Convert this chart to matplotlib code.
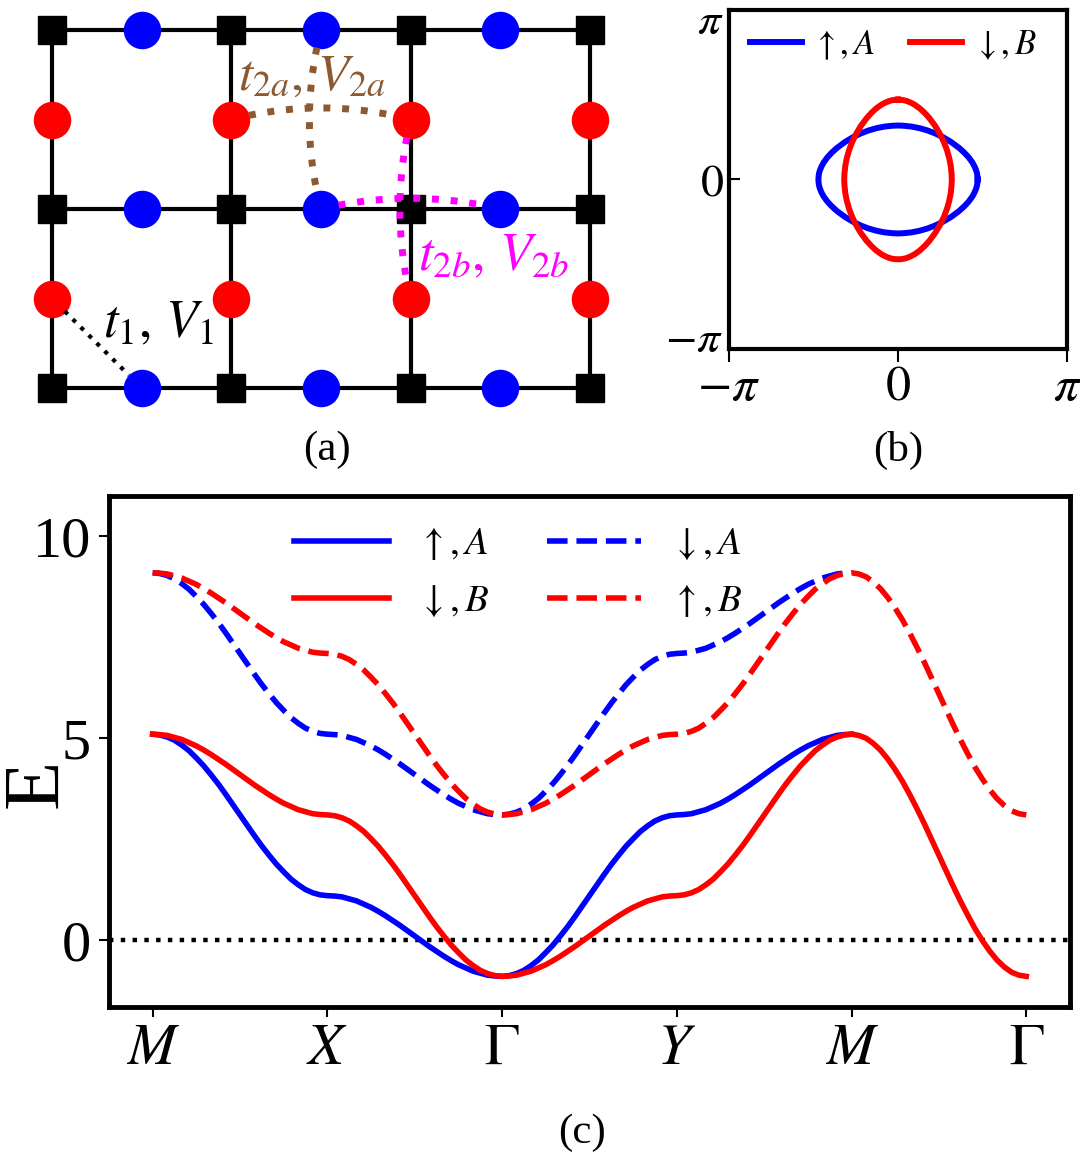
import numpy as np
import matplotlib
matplotlib.use("Agg")
import matplotlib.pyplot as plt
import matplotlib.transforms as mtransforms


plt.rcParams['font.family'] = 'serif'
plt.rcParams['font.serif'] = ['Liberation Serif', 'DejaVu Serif']
plt.rcParams['mathtext.fontset'] = 'stix'

BROWN = '#8c5a32'

# ---- (a) lattice: sites and hoppings (lattice units) ----
GRID_X = [0, 1, 2, 3]          # black squares / bond lines
GRID_Y = [0, 1, 2]
BLUE_X = [0.5, 1.5, 2.5]       # A sites on horizontal bonds
RED_Y = [0.5, 1.5]             # B sites on vertical bonds

# (from site, to site, colour, line width, curvature)
HOPPINGS = [
    ((1.0, 1.5), (2.0, 1.5), BROWN, 5, -0.13),
    ((1.5, 2.0), (1.5, 1.0), BROWN, 5, 0.13),
    ((1.5, 1.0), (2.5, 1.0), 'magenta', 5, -0.12),
    ((2.0, 1.5), (2.0, 0.5), 'magenta', 5, 0.12),
    ((0.0, 0.5), (0.5, 0.0), 'k', 3, 0.0),
]

# ---- (b) Fermi contour, first quadrant of the up,A pocket (kx, ky) ----
FS_KX = [1.480, 1.475, 1.466, 1.451, 1.421, 1.382, 1.313, 1.234, 1.135,
         0.987, 0.839, 0.691, 0.543, 0.395, 0.247, 0.099, 0.000]
FS_KY = [0.000, 0.070, 0.122, 0.172, 0.244, 0.315, 0.410, 0.495, 0.585,
         0.694, 0.782, 0.854, 0.910, 0.952, 0.981, 0.996, 1.000]

# ---- (c) bands along M-X-G-Y-M-G, 24 samples per segment ----
K_LABELS = ['$M$', '$X$', r'$\Gamma$', '$Y$', '$M$', r'$\Gamma$']
SAMPLES_PER_SEGMENT = 24
UP_A = [5.10, 5.08, 5.03, 4.95, 4.83, 4.69, 4.51, 4.32, 4.10, 3.87, 3.62, 3.36, 3.10,
        2.84, 2.58, 2.33, 2.10, 1.88, 1.69, 1.51, 1.37, 1.25, 1.17, 1.12, 1.10,
        1.09, 1.07, 1.02, 0.97, 0.89, 0.81, 0.71, 0.60, 0.48, 0.36, 0.23, 0.10,
        -0.03, -0.16, -0.28, -0.40, -0.51, -0.61, -0.69, -0.77, -0.82, -0.87, -0.89, -0.90,
        -0.88, -0.83, -0.75, -0.63, -0.49, -0.31, -0.12, 0.10, 0.33, 0.58, 0.84, 1.10,
        1.36, 1.62, 1.87, 2.10, 2.32, 2.51, 2.69, 2.83, 2.95, 3.03, 3.08, 3.10,
        3.11, 3.13, 3.18, 3.23, 3.31, 3.39, 3.49, 3.60, 3.72, 3.84, 3.97, 4.10,
        4.23, 4.36, 4.48, 4.60, 4.71, 4.81, 4.89, 4.97, 5.02, 5.07, 5.09, 5.10]
DN_A = [9.10, 9.08, 9.03, 8.95, 8.83, 8.69, 8.51, 8.32, 8.10, 7.87, 7.62, 7.36, 7.10,
        6.84, 6.58, 6.33, 6.10, 5.88, 5.69, 5.51, 5.37, 5.25, 5.17, 5.12, 5.10,
        5.09, 5.07, 5.02, 4.97, 4.89, 4.81, 4.71, 4.60, 4.48, 4.36, 4.23, 4.10,
        3.97, 3.84, 3.72, 3.60, 3.49, 3.39, 3.31, 3.23, 3.18, 3.13, 3.11, 3.10,
        3.12, 3.17, 3.25, 3.37, 3.51, 3.69, 3.88, 4.10, 4.33, 4.58, 4.84, 5.10,
        5.36, 5.62, 5.87, 6.10, 6.32, 6.51, 6.69, 6.83, 6.95, 7.03, 7.08, 7.10,
        7.11, 7.13, 7.18, 7.23, 7.31, 7.39, 7.49, 7.60, 7.72, 7.84, 7.97, 8.10,
        8.23, 8.36, 8.48, 8.60, 8.71, 8.81, 8.89, 8.97, 9.02, 9.07, 9.09, 9.10]
# B bands continue along M-G, where the A bands lie underneath them
DN_B = [5.10, 5.09, 5.07, 5.02, 4.97, 4.89, 4.81, 4.71, 4.60, 4.48, 4.36, 4.23, 4.10,
        3.97, 3.84, 3.72, 3.60, 3.49, 3.39, 3.31, 3.23, 3.18, 3.13, 3.11, 3.10,
        3.08, 3.03, 2.95, 2.83, 2.69, 2.51, 2.32, 2.10, 1.87, 1.62, 1.36, 1.10,
        0.84, 0.58, 0.33, 0.10, -0.12, -0.31, -0.49, -0.63, -0.75, -0.83, -0.88, -0.90,
        -0.89, -0.87, -0.82, -0.77, -0.69, -0.61, -0.51, -0.40, -0.28, -0.16, -0.03, 0.10,
        0.23, 0.36, 0.48, 0.60, 0.71, 0.81, 0.89, 0.97, 1.02, 1.07, 1.09, 1.10,
        1.12, 1.17, 1.25, 1.37, 1.51, 1.69, 1.88, 2.10, 2.33, 2.58, 2.84, 3.10,
        3.36, 3.62, 3.87, 4.10, 4.32, 4.51, 4.69, 4.83, 4.95, 5.03, 5.08, 5.10,
        5.07, 5.00, 4.87, 4.70, 4.48, 4.22, 3.93, 3.60, 3.25, 2.88, 2.49, 2.10,
        1.71, 1.32, 0.95, 0.60, 0.27, -0.02, -0.28, -0.50, -0.67, -0.80, -0.87, -0.90]
UP_B = [9.10, 9.09, 9.07, 9.02, 8.97, 8.89, 8.81, 8.71, 8.60, 8.48, 8.36, 8.23, 8.10,
        7.97, 7.84, 7.72, 7.60, 7.49, 7.39, 7.31, 7.23, 7.18, 7.13, 7.11, 7.10,
        7.08, 7.03, 6.95, 6.83, 6.69, 6.51, 6.32, 6.10, 5.87, 5.62, 5.36, 5.10,
        4.84, 4.58, 4.33, 4.10, 3.88, 3.69, 3.51, 3.37, 3.25, 3.17, 3.12, 3.10,
        3.11, 3.13, 3.18, 3.23, 3.31, 3.39, 3.49, 3.60, 3.72, 3.84, 3.97, 4.10,
        4.23, 4.36, 4.48, 4.60, 4.71, 4.81, 4.89, 4.97, 5.02, 5.07, 5.09, 5.10,
        5.12, 5.17, 5.25, 5.37, 5.51, 5.69, 5.88, 6.10, 6.33, 6.58, 6.84, 7.10,
        7.36, 7.62, 7.87, 8.10, 8.32, 8.51, 8.69, 8.83, 8.95, 9.03, 9.08, 9.10,
        9.07, 9.00, 8.87, 8.70, 8.48, 8.22, 7.93, 7.60, 7.25, 6.88, 6.49, 6.10,
        5.71, 5.32, 4.95, 4.60, 4.27, 3.98, 3.72, 3.50, 3.33, 3.20, 3.13, 3.10]


def plot_lattice(ax):
    ax.hlines(GRID_Y, GRID_X[0], GRID_X[-1], color='k', lw=3, zorder=1)
    ax.vlines(GRID_X, GRID_Y[0], GRID_Y[-1], color='k', lw=3, zorder=1)
    sx, sy = np.meshgrid(GRID_X, GRID_Y)
    ax.plot(sx.ravel(), sy.ravel(), 's', color='k', ms=20, zorder=2)
    bx, by = np.meshgrid(BLUE_X, GRID_Y)
    ax.plot(bx.ravel(), by.ravel(), 'o', color='blue', ms=27, mec='none', zorder=3)
    rx, ry = np.meshgrid(GRID_X, RED_Y)
    ax.plot(rx.ravel(), ry.ravel(), 'o', color='red', ms=27, mec='none', zorder=3)

    for start, end, colour, lw, rad in HOPPINGS:
        ann = ax.annotate('', xy=end, xytext=start, zorder=4,
                          arrowprops=dict(arrowstyle='-', color=colour, lw=lw,
                                          ls=(0, (1.0, 1.7)),
                                          connectionstyle=f'arc3,rad={rad}',
                                          shrinkA=13, shrinkB=13))
        ann.arrow_patch.set_capstyle('butt')

    ax.text(1.037, 1.665, r'$t_{2a},\,V_{2a}$', color=BROWN, fontsize=37,
            ha='left', va='baseline', zorder=5)
    ax.text(2.041, 0.659, r'$t_{2b},\,V_{2b}$', color='magenta', fontsize=38,
            ha='left', va='baseline', zorder=5)
    ax.text(0.284, 0.285, r'$t_1,\,V_1$', color='k', fontsize=38,
            ha='left', va='baseline', zorder=5)

    ax.set_xlim(-0.290, 3.279)
    ax.set_ylim(-0.179, 2.168)
    ax.axis('off')


def plot_fermi(ax):
    qx = np.array(FS_KX)
    qy = np.array(FS_KY)
    kx = np.concatenate([qx, -qx[::-1], -qx, qx[::-1]])
    ky = np.concatenate([qy, qy[::-1], -qy, -qy[::-1]])
    ax.plot(kx, ky, color='blue', lw=4.3, label=r'$\uparrow, A$')
    # B pocket is the A pocket rotated by 90 degrees
    ax.plot(ky, kx, color='red', lw=4.3, label=r'$\downarrow, B$')

    ax.set_xlim(-np.pi, np.pi)
    ax.set_ylim(-np.pi, np.pi)
    ticks = [-np.pi, 0, np.pi]
    labels = [r'$-\pi$', '$0$', r'$\pi$']
    ax.set_xticks(ticks, labels)
    ax.set_yticks(ticks, labels)
    ax.tick_params(axis='x', direction='out', length=9, width=1.5, labelsize=36, pad=2)
    ax.tick_params(axis='y', direction='in', length=8, width=1.5, labelsize=33, pad=4)
    # end labels pulled in towards the middle of the axis
    ylabels = ax.get_yticklabels()
    dpi_trans = ax.figure.dpi_scale_trans
    ylabels[0].set_transform(ylabels[0].get_transform()
                             + mtransforms.ScaledTranslation(0, 0.13, dpi_trans))
    ylabels[-1].set_transform(ylabels[-1].get_transform()
                              + mtransforms.ScaledTranslation(0, -0.08, dpi_trans))
    for spine in ax.spines.values():
        spine.set_linewidth(3)
    ax.legend(loc='upper left', bbox_to_anchor=(0.062, 0.944), ncol=2, frameon=False,
              fontsize=25, handlelength=1.5, handletextpad=0.3, columnspacing=1.0,
              borderpad=0, borderaxespad=0)


def plot_bands(ax):
    k_b = np.arange(len(DN_B)) / SAMPLES_PER_SEGMENT
    k_a = np.arange(len(UP_A)) / SAMPLES_PER_SEGMENT
    ax.axhline(0, color='k', ls=':', lw=3.2)
    ax.plot(k_a, UP_A, color='blue', lw=4, label=r'$\uparrow, A$')
    ax.plot(k_b, DN_B, color='red', lw=4, label=r'$\downarrow, B$')
    ax.plot(k_a, DN_A, color='blue', lw=4, ls='--', label=r'$\downarrow, A$')
    ax.plot(k_b, UP_B, color='red', lw=4, ls='--', label=r'$\uparrow, B$')

    ax.set_xlim(-0.25, 5.25)
    ax.set_ylim(-1.66, 11.0)
    ax.set_xticks(range(len(K_LABELS)), K_LABELS)
    ax.set_yticks([0, 5, 10])
    ax.tick_params(axis='both', direction='out', length=7, width=1.5, labelsize=42)
    ax.tick_params(axis='x', pad=5)
    ax.tick_params(axis='y', pad=6)
    for spine in ax.spines.values():
        spine.set_linewidth(3.5)
    ax.set_ylabel('E', fontsize=58)
    ax.yaxis.set_label_coords(-0.036, 0.438)
    ax.legend(loc='upper left', bbox_to_anchor=(0.193, 0.941), ncol=2, frameon=False,
              fontsize=28, handlelength=2.42, handletextpad=0.75, columnspacing=1.5,
              labelspacing=0.52, borderpad=0, borderaxespad=0)


def main():
    fig = plt.figure(figsize=(10.8, 11.59), dpi=100)
    ax_a = fig.add_axes([0.0, 0.6376, 0.5926, 0.3624])
    ax_b = fig.add_axes([0.675, 0.6989, 0.3130, 0.2925])
    ax_c = fig.add_axes([0.1009, 0.1311, 0.8898, 0.4409])
    plot_lattice(ax_a)
    plot_fermi(ax_b)
    plot_bands(ax_c)

    fig.text(327 / 1080, 1 - 450 / 1159, '(a)', ha='center', va='center', fontsize=31)
    fig.text(898 / 1080, 1 - 450 / 1159, '(b)', ha='center', va='center', fontsize=31)
    fig.text(582 / 1080, 1 - 1133 / 1159, '(c)', ha='center', va='center', fontsize=31)
    fig.savefig('out.png', dpi=100)


if __name__ == "__main__":
    main()
